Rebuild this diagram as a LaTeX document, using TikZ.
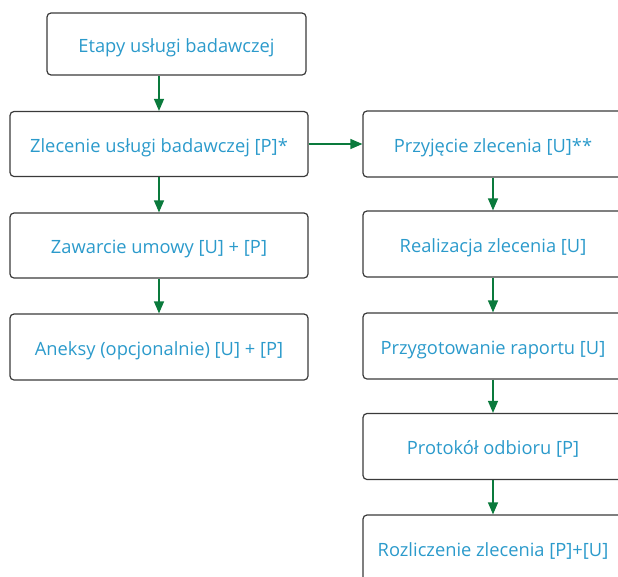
\documentclass[tikz,border=0pt]{standalone}
\usepackage{fontspec}
\setmainfont{Open Sans}
\usetikzlibrary{arrows.meta}
\definecolor{txtblue}{HTML}{2B9ACB}
\definecolor{arrgreen}{HTML}{0A7A3C}
\definecolor{edgegray}{HTML}{3A3A3A}
\tikzset{
  stepbox/.style={draw=edgegray, line width=1.2pt, rounded corners=4pt,
    rectangle, inner sep=0pt, text=txtblue, font=\fontsize{18.3}{21}\selectfont,
    text height=19.5pt, text depth=3pt},
  flow/.style={draw=arrgreen, line width=1.2pt,
    -{Triangle[length=12pt, width=10pt]}}
}
\begin{document}
\begin{tikzpicture}[x=1pt, y=-1pt]
  \useasboundingbox (0,0) rectangle (618,576);
  \clip (0,0) rectangle (618,576);
  % left column
  \node[stepbox, minimum width=259pt, minimum height=62pt] (etapy) at (176.5,44) {Etapy usługi badawczej};
  \node[stepbox, minimum width=298pt, minimum height=65pt] (zlec) at (159,144) {Zlecenie usługi badawczej [P]*};
  \node[stepbox, minimum width=298pt, minimum height=65pt] (umowa) at (159,245.5) {Zawarcie umowy [U] + [P]};
  \node[stepbox, minimum width=298pt, minimum height=66pt] (aneks) at (159,347) {Aneksy (opcjonalnie) [U] + [P]};
  % right column
  \node[stepbox, minimum width=260pt, minimum height=66pt] (przyj) at (493,144) {Przyjęcie zlecenia [U]**};
  \node[stepbox, minimum width=260pt, minimum height=66pt] (real) at (493,244) {Realizacja zlecenia [U]};
  \node[stepbox, minimum width=260pt, minimum height=66pt] (rap) at (493,346) {Przygotowanie raportu [U]};
  \node[stepbox, minimum width=260pt, minimum height=66pt] (prot) at (493,446.5) {Protokół odbioru [P]};
  \node[stepbox, minimum width=260pt, minimum height=66pt] (rozl) at (493,548) {Rozliczenie zlecenia [P]+[U]};
  % connectors
  \draw[flow] (zlec.north |- etapy.south) -- (zlec.north);
  \draw[flow] (zlec.south) -- (umowa.north);
  \draw[flow] (umowa.south) -- (aneks.north);
  \draw[flow] (zlec.east) -- (przyj.west);
  \draw[flow] (przyj.south) -- (real.north);
  \draw[flow] (real.south) -- (rap.north);
  \draw[flow] (rap.south) -- (prot.north);
  \draw[flow] (prot.south) -- (rozl.north);
\end{tikzpicture}
\end{document}
